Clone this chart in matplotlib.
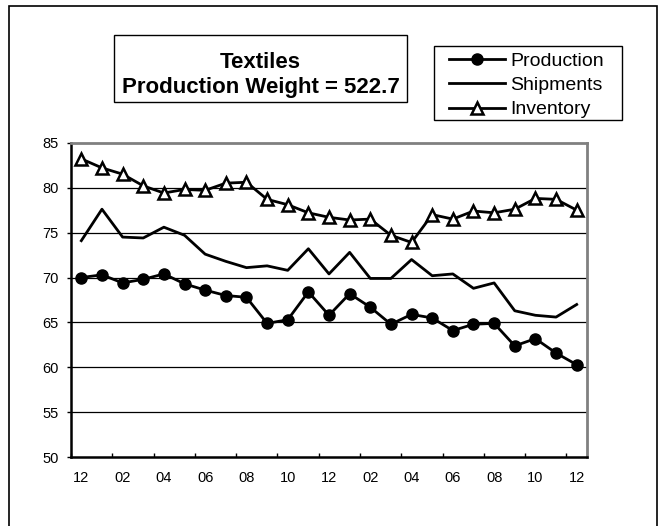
import numpy as np
import matplotlib
matplotlib.use("Agg")
from matplotlib import pyplot
from matplotlib.patches import Rectangle

pyplot.rcParams["font.family"] = ["Liberation Sans", "DejaVu Sans"]

# Months, Dec to Dec over two years
months = ["12", "01", "02", "03", "04", "05", "06", "07", "08", "09", "10", "11",
          "12", "01", "02", "03", "04", "05", "06", "07", "08", "09", "10", "11", "12"]

production = [70.0, 70.3, 69.4, 69.8, 70.4, 69.3, 68.6, 68.0, 67.8, 64.9, 65.3, 68.4,
              65.8, 68.2, 66.7, 64.8, 65.9, 65.5, 64.1, 64.8, 64.9, 62.4, 63.2, 61.6, 60.3]
shipments = [74.1, 77.6, 74.5, 74.4, 75.6, 74.7, 72.6, 71.8, 71.1, 71.3, 70.8, 73.2,
             70.4, 72.8, 69.9, 69.9, 72.0, 70.2, 70.4, 68.8, 69.4, 66.3, 65.8, 65.6, 67.0]
inventory = [83.2, 82.2, 81.5, 80.2, 79.4, 79.8, 79.7, 80.5, 80.6, 78.7, 78.1, 77.2,
             76.7, 76.4, 76.5, 74.7, 73.9, 77.0, 76.5, 77.4, 77.2, 77.6, 78.8, 78.7, 77.5]

title_lines = ["Textiles", "Production Weight = 522.7"]

W, H = 659, 526
fig = pyplot.figure(figsize=(W / 100, H / 100), dpi=100)
ax = fig.add_axes([71 / W, 1 - 457.3 / H, (587 - 71) / W, (457.3 - 142.7) / H])

x = np.arange(len(months))
ax.plot(x, production, color="black", lw=2, marker="o", markersize=8,
        label="Production", zorder=3)
ax.plot(x, shipments, color="black", lw=2, label="Shipments", zorder=3)
ax.plot(x, inventory, color="black", lw=2, marker="^", markersize=8.5,
        markerfacecolor="white", markeredgecolor="black", markeredgewidth=1.8,
        label="Inventory", zorder=3)

ax.set_xlim(-0.5, len(months) - 0.5)
ax.set_ylim(50, 85)
ax.set_yticks(range(50, 86, 5))
for v in range(55, 85, 5):
    ax.axhline(v, color="black", lw=0.9, zorder=1)

# ticks between categories, labels on every second month
ax.set_xticks(np.arange(-0.5, len(months) - 1, 2))
ax.set_xticklabels([])
ax.set_xticks(x[::2], minor=True)
ax.set_xticklabels(months[::2], minor=True, fontsize=10.5)
ax.tick_params(axis="x", which="major", direction="in", length=3, width=1)
ax.tick_params(axis="x", which="minor", length=0, pad=10)
ax.tick_params(axis="y", direction="out", length=3, width=1, labelsize=10.5, pad=6)

ax.spines["left"].set_linewidth(1.8)
ax.spines["bottom"].set_linewidth(1.8)
for s in ["top", "right"]:
    ax.spines[s].set_color("#808080")
    ax.spines[s].set_linewidth(2)

# outer frame (bottom edge falls off the picture)
fig.patches.append(Rectangle((9 / W, -0.02), (657 - 9) / W, 1 - 5.5 / H + 0.02,
                             transform=fig.transFigure, fill=False,
                             edgecolor="black", lw=1.2))

# title box
fig.patches.append(Rectangle((114 / W, 1 - 101.5 / H), (407 - 114) / W, 66.5 / H,
                             transform=fig.transFigure, fill=False,
                             edgecolor="black", lw=1))
fig.text(260.5 / W, 1 - 62.5 / H, title_lines[0], ha="center", va="center",
         fontsize=16, fontweight="bold")
fig.text(260.5 / W, 1 - 87.5 / H, title_lines[1], ha="center", va="center",
         fontsize=16, fontweight="bold")

# legend box
fig.patches.append(Rectangle((434 / W, 1 - 120 / H), (622 - 434) / W, 74 / H,
                             transform=fig.transFigure, fill=False,
                             edgecolor="black", lw=1))
leg = ax.legend(loc="upper left", bbox_to_anchor=(445 / W, 1 - 48 / H),
                bbox_transform=fig.transFigure, fontsize=14, frameon=False,
                borderaxespad=0, handlelength=2.9, handletextpad=0.25,
                labelspacing=0.35, borderpad=0.2)

fig.savefig("out.png", dpi=100)
